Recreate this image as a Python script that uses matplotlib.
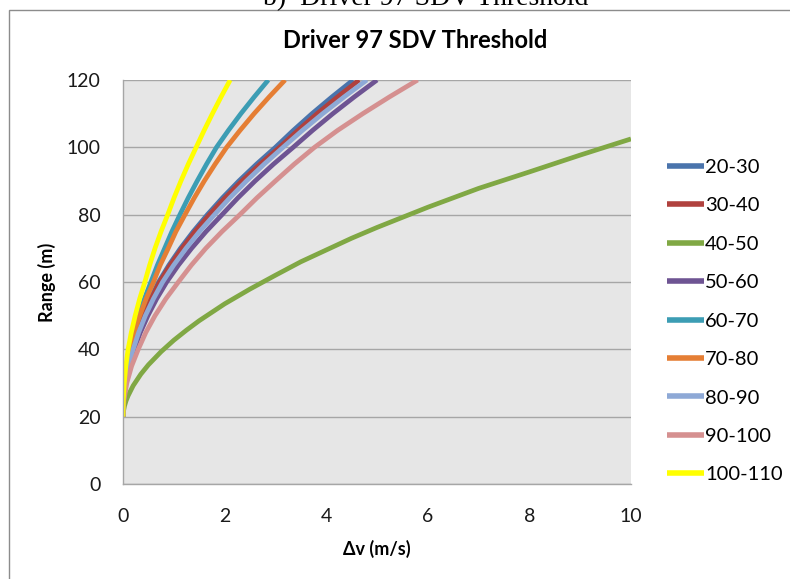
import matplotlib.pyplot as plt
from matplotlib.patches import Rectangle

# range values (m) shared by the threshold curves
range_m = [20, 22, 25, 30, 35, 40, 45, 50, 55, 60, 65, 70,
           75, 80, 85, 90, 95, 100, 105, 110, 115, 120]

# delta-v (m/s) for each range bin
dv_20_30 = [0, 0.002, 0.011, 0.045, 0.101, 0.18, 0.279, 0.40, 0.539, 0.70, 0.903, 1.13,
            1.383, 1.66, 1.958, 2.28, 2.628, 3.00, 3.35, 3.72, 4.115, 4.53]
dv_30_40 = [0, 0.002, 0.012, 0.048, 0.107, 0.19, 0.289, 0.41, 0.554, 0.72, 0.928, 1.16,
            1.418, 1.70, 2.008, 2.34, 2.697, 3.08, 3.44, 3.82, 4.225, 4.65]
dv_50_60 = [0, 0.002, 0.014, 0.055, 0.124, 0.22, 0.342, 0.49, 0.662, 0.86, 1.091, 1.35,
            1.636, 1.95, 2.263, 2.60, 2.962, 3.35, 3.729, 4.13, 4.555, 5.00]
dv_60_70 = [0, 0.001, 0.008, 0.030, 0.068, 0.12, 0.206, 0.31, 0.421, 0.55, 0.677, 0.82,
            0.963, 1.12, 1.284, 1.46, 1.644, 1.84, 2.073, 2.32, 2.584, 2.86]
dv_70_80 = [0, 0.001, 0.008, 0.033, 0.073, 0.13, 0.220, 0.33, 0.455, 0.60, 0.732, 0.89,
            1.042, 1.22, 1.403, 1.60, 1.813, 2.04, 2.302, 2.58, 2.878, 3.19]
dv_80_90 = [0, 0.002, 0.013, 0.050, 0.113, 0.20, 0.308, 0.44, 0.598, 0.78, 0.997, 1.24,
            1.507, 1.80, 2.103, 2.43, 2.778, 3.15, 3.529, 3.93, 4.355, 4.80]
dv_90_100 = [0, 0.003, 0.019, 0.075, 0.169, 0.30, 0.449, 0.63, 0.843, 1.09, 1.345, 1.63,
             1.95, 2.30, 2.637, 3.00, 3.37, 3.77, 4.221, 4.72, 5.247, 5.80]
dv_100_110 = [0, 0.001, 0.006, 0.025, 0.056, 0.10, 0.163, 0.24, 0.328, 0.43, 0.524, 0.63,
              0.749, 0.88, 1.005, 1.14, 1.285, 1.44, 1.596, 1.76, 1.931, 2.11]

# the 40-50 bin runs out to 10 m/s, so it has its own points
dv_40_50 = [0, 0.01, 0.03, 0.06, 0.1, 0.2, 0.35, 0.5, 0.75, 1.0, 1.25, 1.5,
            2.0, 2.5, 3.0, 3.5, 4.0, 4.5, 5.0, 6.0, 7.0, 8.0, 9.0, 10.0]
range_40_50 = [20, 21.7, 23.2, 24.7, 26.2, 29.2, 32.6, 35.4, 39.3, 42.7, 45.7, 48.5,
               53.5, 57.9, 62.0, 66.0, 69.5, 73.0, 76.2, 82.2, 87.8, 92.7, 97.7, 102.5]

labels = ['20-30', '30-40', '40-50', '50-60', '60-70', '70-80', '80-90', '90-100', '100-110']
colors = ['#4A74AC', '#B0413E', '#80A844', '#6E5493', '#3C9DB4',
          '#E57E34', '#8EA9D6', '#D59090', '#FFFF00']

series = [
    (dv_20_30, range_m),
    (dv_30_40, range_m),
    (dv_40_50, range_40_50),
    (dv_50_60, range_m),
    (dv_60_70, range_m),
    (dv_70_80, range_m),
    (dv_80_90, range_m),
    (dv_90_100, range_m),
    (dv_100_110, range_m),
]

plt.rcParams['font.family'] = ['Lato', 'DejaVu Sans']

fig = plt.figure(figsize=(7.9, 5.79), dpi=100)
ax = fig.add_axes([0.1557, 0.1641, 0.643, 0.6977])

# outer chart frame and the cut-off caption above it
fig.patches.append(Rectangle((9 / 790, -0.1), 1.0, 1.1 - 10 / 579,
                             transform=fig.transFigure, fill=False,
                             edgecolor='#8C8C8C', linewidth=1.0))
fig.text(426 / 790, 1 - 5 / 579, 'b)  Driver 97 SDV Threshold',
         family='Liberation Serif', fontsize=20, ha='center', va='baseline')

for (x, y), lab, c in zip(series, labels, colors):
    ax.plot(x, y, color=c, linewidth=3.4, label=lab, solid_capstyle='butt')

ax.set_facecolor('#E6E6E6')
ax.set_xlim(0, 10)
ax.set_ylim(0, 120)
ax.set_xticks([0, 2, 4, 6, 8, 10])
ax.set_yticks([0, 20, 40, 60, 80, 100, 120])
ax.grid(True, axis='y', color='#A6A6A6', linewidth=1.0)
ax.set_axisbelow(True)
ax.tick_params(length=0, labelsize=14, colors='#1a1a1a')
ax.tick_params(axis='x', pad=17)
ax.tick_params(axis='y', pad=16)
for s in ['top', 'right']:
    ax.spines[s].set_visible(False)
for s in ['left', 'bottom']:
    ax.spines[s].set_color('#A6A6A6')
    ax.spines[s].set_linewidth(1.0)

fig.text(415 / 790, 1 - 41 / 579, 'Driver 97 SDV Threshold', fontsize=17,
         fontweight='bold', ha='center', va='center')
ax.set_xlabel('Δv (m/s)', fontsize=13, fontweight='bold', labelpad=11)
ax.set_ylabel('Range (m)', fontsize=13, fontweight='bold', labelpad=8)

leg = ax.legend(loc='upper left', bbox_to_anchor=(1.055, 0.825), frameon=False,
                fontsize=14.5, handlelength=1.85, handletextpad=0.05,
                labelspacing=1.06, borderaxespad=0)
for h in leg.get_lines():
    h.set_linewidth(4)

fig.savefig('out.png', dpi=100)
